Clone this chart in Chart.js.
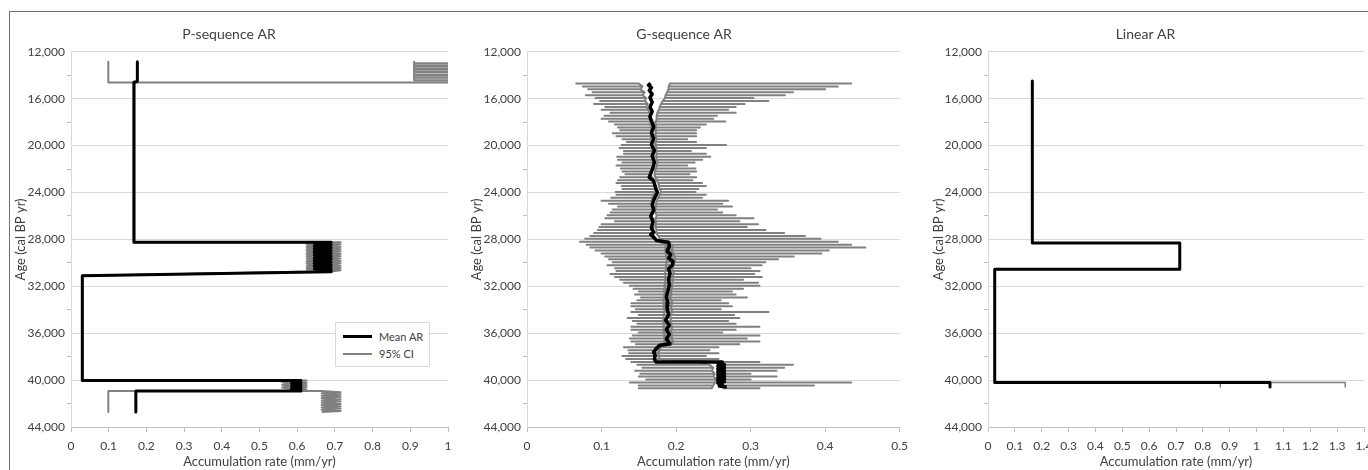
<!DOCTYPE html>
<html>
<head>
<meta charset="utf-8">
<script src="https://cdn.jsdelivr.net/npm/chart.js@4"></script>
<style>
  html, body { margin: 0; padding: 0; background: #fff; overflow: hidden; width: 1368px; height: 470px; }
  #frame { position: absolute; left: 9px; top: 11px; width: 1400px; height: 500px; border: 1px solid #707070; }
  canvas { position: absolute; top: 12px; }
  #legend { position: absolute; left: 335px; top: 322px; width: 95px; height: 45px; box-sizing: border-box;
            border: 1px solid #d9d9d9; background: #fff; padding-top: 5px; font: 11px Lato, sans-serif; color: #404040; }
  #legend .row { height: 17px; line-height: 17px; display: flex; align-items: center; }
  #legend .sw { display: inline-block; width: 29px; margin: 0 7px 0 7px; }
</style>
</head>
<body>
<div id="frame"></div>
<canvas id="pseq" width="452" height="458" style="left:10px"></canvas>
<canvas id="gseq" width="449" height="458" style="left:466px"></canvas>
<canvas id="lin" width="460" height="458" style="left:927px"></canvas>
<div id="legend">
  <div class="row"><span class="sw" style="height:3px;background:#000"></span>Mean AR</div>
  <div class="row"><span class="sw" style="height:2px;background:#808080"></span>95% CI</div>
</div>
<script>
// P-sequence AR (age in cal BP yr, rate in mm/yr)
const P_MEAN_AGE = [12850, 14520, 14600, 28240, 28240, 28360, 28480, 28600, 28720, 28840,
  28960, 29080, 29200, 29320, 29440, 29560, 29680, 29800, 29920, 30040,
  30160, 30280, 30400, 30520, 30640, 30750, 31090, 40040, 40040, 40140,
  40240, 40340, 40440, 40540, 40640, 40740, 40840, 40930, 40930, 42720];
const P_MEAN_AR = [0.176, 0.176, 0.167, 0.167, 0.690, 0.645, 0.690, 0.645, 0.690, 0.645,
  0.690, 0.645, 0.690, 0.645, 0.690, 0.645, 0.690, 0.645, 0.690, 0.645,
  0.690, 0.645, 0.690, 0.645, 0.690, 0.690, 0.030, 0.030, 0.610, 0.585,
  0.610, 0.585, 0.610, 0.585, 0.610, 0.585, 0.610, 0.610, 0.172, 0.172];

const P_LOW_AGE = [12850, 14620, 14620, 28240, 28240, 28340, 28440, 28540, 28640, 28740,
  28840, 28940, 29040, 29140, 29240, 29340, 29440, 29540, 29640, 29740,
  29840, 29940, 30040, 30140, 30240, 30340, 30440, 30540, 30640, 30740,
  31090, 40040, 40040, 40160, 40280, 40400, 40520, 40640, 40760, 40930,
  40930, 42720];
const P_LOW_AR = [0.099, 0.099, 0.166, 0.166, 0.625, 0.645, 0.625, 0.645, 0.625, 0.645,
  0.625, 0.645, 0.625, 0.645, 0.625, 0.645, 0.625, 0.645, 0.625, 0.645,
  0.625, 0.645, 0.625, 0.645, 0.625, 0.645, 0.625, 0.645, 0.625, 0.645,
  0.030, 0.030, 0.585, 0.560, 0.585, 0.560, 0.585, 0.560, 0.585, 0.585,
  0.099, 0.099];

const P_UP_AGE = [12850, 12970, 12970, 13010, 13010, 13210, 13210, 13250, 13250, 13450,
  13450, 13490, 13490, 13690, 13690, 13730, 13730, 13930, 13930, 13970,
  13970, 14170, 14170, 14210, 14210, 14420, 14420, 14620, 14620, 28240,
  28240, 28340, 28440, 28540, 28640, 28740, 28840, 28940, 29040, 29140,
  29240, 29340, 29440, 29540, 29640, 29740, 29840, 29940, 30040, 30140,
  30240, 30340, 30440, 30540, 30640, 30740, 31090, 40040, 40040, 40140,
  40240, 40340, 40440, 40540, 40640, 40740, 40840, 40930, 40930, 41030,
  41130, 41230, 41330, 41430, 41530, 41630, 41730, 41830, 41930, 42030,
  42130, 42230, 42330, 42430, 42530, 42630, 42720];
const P_UP_AR = [0.910, 0.910, 1.100, 1.100, 0.910, 0.910, 1.100, 1.100, 0.910, 0.910,
  1.100, 1.100, 0.910, 0.910, 1.100, 1.100, 0.910, 0.910, 1.100, 1.100,
  0.910, 0.910, 1.100, 1.100, 0.910, 0.910, 1.100, 1.100, 0.168, 0.168,
  0.715, 0.690, 0.715, 0.690, 0.715, 0.690, 0.715, 0.690, 0.715, 0.690,
  0.715, 0.690, 0.715, 0.690, 0.715, 0.690, 0.715, 0.690, 0.715, 0.690,
  0.715, 0.690, 0.715, 0.690, 0.715, 0.690, 0.030, 0.030, 0.625, 0.610,
  0.625, 0.610, 0.625, 0.610, 0.625, 0.610, 0.625, 0.610, 0.665, 0.715,
  0.665, 0.715, 0.665, 0.715, 0.665, 0.715, 0.665, 0.715, 0.665, 0.715,
  0.665, 0.715, 0.665, 0.715, 0.665, 0.715, 0.665];

// G-sequence AR
const G_MEAN_AGE = [14700, 14850, 15050, 15300, 15600, 15900, 16300, 16700, 17100, 17500,
  17900, 18400, 18900, 19400, 19900, 20400, 20900, 21400, 21900, 22400,
  22700, 23000, 23500, 24000, 24500, 25000, 25500, 26000, 26500, 27000,
  27400, 27600, 27800, 28100, 28240, 28600, 29000, 29300, 29600, 29900,
  30200, 30500, 30900, 31400, 31900, 32400, 32900, 33400, 33900, 34400,
  34900, 35300, 35700, 36100, 36500, 36900, 37030, 37300, 37600, 37900,
  38200, 38450, 38450, 38570, 38690, 38810, 38930, 39050, 39170, 39290,
  39410, 39530, 39650, 39770, 39890, 40010, 40130, 40250, 40370, 40500,
  40600];
const G_MEAN_AR = [0.166, 0.163, 0.167, 0.164, 0.168, 0.165, 0.168, 0.165, 0.168, 0.165,
  0.167, 0.170, 0.167, 0.170, 0.167, 0.171, 0.168, 0.171, 0.169, 0.166,
  0.164, 0.170, 0.172, 0.175, 0.171, 0.168, 0.170, 0.166, 0.169, 0.167,
  0.170, 0.166, 0.170, 0.174, 0.190, 0.191, 0.188, 0.193, 0.190, 0.196,
  0.195, 0.190, 0.192, 0.190, 0.191, 0.189, 0.187, 0.189, 0.188, 0.190,
  0.186, 0.191, 0.187, 0.191, 0.187, 0.192, 0.178, 0.174, 0.170, 0.172,
  0.171, 0.173, 0.262, 0.256, 0.265, 0.256, 0.265, 0.256, 0.265, 0.256,
  0.265, 0.256, 0.265, 0.256, 0.265, 0.256, 0.265, 0.256, 0.262, 0.258,
  0.268];

// 95% CI per sample: inner and outer end of each bar
const G_CI_AGE = [14700, 14950, 15200, 15450, 15700, 15950, 16200, 16450, 16700, 16950,
  17200, 17450, 17700, 17950, 18200, 18450, 18700, 18950, 19200, 19450,
  19700, 19950, 20200, 20450, 20700, 20950, 21200, 21450, 21700, 21950,
  22200, 22450, 22700, 22950, 23200, 23450, 23700, 23950, 24200, 24450,
  24700, 24950, 25200, 25450, 25700, 25950, 26200, 26450, 26700, 26950,
  27200, 27450, 27700, 27950, 28200, 28450, 28700, 28950, 29200, 29450,
  29700, 29950, 30200, 30450, 30700, 30950, 31200, 31450, 31700, 31950,
  32200, 32450, 32700, 32950, 33200, 33450, 33700, 33950, 34200, 34450,
  34700, 34950, 35200, 35450, 35700, 35950, 36200, 36450, 36700, 36950,
  37200, 37450, 37700, 37950, 38200, 38450, 38700, 38950, 39200, 39450,
  39700, 39950, 40200, 40450, 40700];
const G_LOW_OUT = [0.066, 0.075, 0.082, 0.088, 0.079, 0.092, 0.098, 0.090, 0.105, 0.100,
  0.112, 0.104, 0.100, 0.110, 0.118, 0.122, 0.125, 0.115, 0.120, 0.128,
  0.134, 0.127, 0.124, 0.130, 0.130, 0.121, 0.122, 0.128, 0.120, 0.126,
  0.128, 0.132, 0.125, 0.122, 0.120, 0.127, 0.128, 0.119, 0.120, 0.113,
  0.100, 0.110, 0.122, 0.115, 0.112, 0.108, 0.105, 0.118, 0.100, 0.097,
  0.095, 0.090, 0.085, 0.078, 0.071, 0.080, 0.085, 0.092, 0.100, 0.105,
  0.110, 0.115, 0.108, 0.118, 0.120, 0.112, 0.118, 0.125, 0.130, 0.138,
  0.143, 0.150, 0.145, 0.153, 0.148, 0.140, 0.140, 0.146, 0.140, 0.150,
  0.135, 0.142, 0.148, 0.140, 0.140, 0.150, 0.142, 0.138, 0.140, 0.146,
  0.130, 0.136, 0.137, 0.128, 0.133, 0.140, 0.148, 0.155, 0.145, 0.152,
  0.150, 0.160, 0.138, 0.150, 0.150];
const G_LOW_IN = [0.150, 0.155, 0.152, 0.158, 0.155, 0.160, 0.158, 0.162, 0.160, 0.163,
  0.164, 0.166, 0.163, 0.167, 0.165, 0.168, 0.166, 0.168, 0.165, 0.168,
  0.166, 0.168, 0.167, 0.169, 0.168, 0.170, 0.168, 0.170, 0.169, 0.168,
  0.166, 0.165, 0.168, 0.170, 0.171, 0.172, 0.173, 0.171, 0.170, 0.168,
  0.168, 0.170, 0.169, 0.168, 0.170, 0.167, 0.168, 0.169, 0.167, 0.168,
  0.169, 0.168, 0.170, 0.172, 0.176, 0.195, 0.196, 0.194, 0.197, 0.198,
  0.199, 0.198, 0.197, 0.195, 0.196, 0.197, 0.195, 0.196, 0.195, 0.194,
  0.195, 0.193, 0.194, 0.192, 0.194, 0.195, 0.193, 0.194, 0.195, 0.193,
  0.192, 0.194, 0.193, 0.195, 0.194, 0.193, 0.195, 0.194, 0.196, 0.195,
  0.180, 0.178, 0.176, 0.177, 0.178, 0.230, 0.245, 0.250, 0.248, 0.252,
  0.250, 0.255, 0.252, 0.250, 0.248];
const G_UP_OUT = [0.435, 0.417, 0.400, 0.357, 0.346, 0.304, 0.324, 0.292, 0.280, 0.270,
  0.280, 0.255, 0.250, 0.266, 0.240, 0.232, 0.227, 0.227, 0.227, 0.215,
  0.227, 0.267, 0.240, 0.220, 0.240, 0.246, 0.235, 0.225, 0.215, 0.226,
  0.227, 0.218, 0.227, 0.222, 0.235, 0.240, 0.230, 0.226, 0.240, 0.235,
  0.270, 0.262, 0.275, 0.255, 0.262, 0.280, 0.304, 0.285, 0.310, 0.295,
  0.320, 0.345, 0.373, 0.394, 0.417, 0.435, 0.454, 0.405, 0.395, 0.358,
  0.337, 0.320, 0.315, 0.300, 0.312, 0.305, 0.315, 0.290, 0.310, 0.312,
  0.290, 0.275, 0.280, 0.295, 0.260, 0.270, 0.275, 0.260, 0.324, 0.278,
  0.285, 0.270, 0.280, 0.312, 0.280, 0.262, 0.312, 0.295, 0.312, 0.285,
  0.257, 0.245, 0.257, 0.240, 0.257, 0.312, 0.357, 0.345, 0.335, 0.300,
  0.335, 0.300, 0.435, 0.385, 0.312];
const G_UP_IN = [0.192, 0.190, 0.190, 0.188, 0.186, 0.185, 0.182, 0.180, 0.178, 0.177,
  0.175, 0.174, 0.174, 0.173, 0.172, 0.173, 0.172, 0.173, 0.172, 0.174,
  0.173, 0.172, 0.174, 0.173, 0.174, 0.173, 0.174, 0.175, 0.174, 0.173,
  0.172, 0.171, 0.172, 0.174, 0.176, 0.177, 0.178, 0.180, 0.178, 0.176,
  0.174, 0.173, 0.173, 0.172, 0.172, 0.174, 0.173, 0.172, 0.173, 0.172,
  0.174, 0.173, 0.176, 0.178, 0.182, 0.186, 0.186, 0.185, 0.187, 0.186,
  0.188, 0.187, 0.186, 0.187, 0.186, 0.185, 0.186, 0.185, 0.186, 0.184,
  0.185, 0.184, 0.185, 0.184, 0.183, 0.184, 0.183, 0.184, 0.185, 0.183,
  0.184, 0.182, 0.184, 0.183, 0.184, 0.183, 0.185, 0.184, 0.185, 0.184,
  0.172, 0.171, 0.170, 0.171, 0.172, 0.262, 0.264, 0.262, 0.263, 0.262,
  0.264, 0.262, 0.263, 0.262, 0.264];

// Linear AR
const L_AGE = [14500, 28300, 28300, 30540, 30540, 40210, 40210, 40590];
const L_MEAN_AR = [0.165, 0.165, 0.714, 0.714, 0.025, 0.025, 1.050, 1.050];
const L_LOW_AR = [0.165, 0.165, 0.714, 0.714, 0.025, 0.025, 0.865, 0.865];
const L_UP_AR = [0.165, 0.165, 0.714, 0.714, 0.025, 0.025, 1.330, 1.330];

const FONT = 'Lato, "Open Sans", sans-serif';
const TXT = '#404040';

function style(points, color, width) {
  return {
    data: points,
    showLine: true,
    borderColor: color,
    borderWidth: width,
    pointRadius: 0,
    fill: false,
    borderJoinStyle: 'round'
  };
}

function line(ages, rates, color, width) {
  return style(ages.map((a, i) => ({ x: rates[i], y: a })), color, width);
}

// one horizontal bar per sample, from the inner to the outer CI value and back
function bars(ages, inner, outer, color, width) {
  const pts = [];
  ages.forEach((a, i) => {
    pts.push({ x: inner[i], y: a }, { x: outer[i], y: a }, { x: inner[i], y: a });
  });
  return style(pts, color, width);
}

function panelOptions(title, xMax, padRight, yTitlePad) {
  return {
    responsive: false,
    animation: false,
    layout: { padding: { left: 0, right: padRight, top: 0, bottom: 0 } },
    plugins: {
      legend: { display: false },
      tooltip: { enabled: false },
      title: {
        display: true, text: title, color: TXT,
        font: { family: FONT, size: 14, weight: 'normal' },
        padding: { top: 14, bottom: 9 }
      }
    },
    scales: {
      x: {
        type: 'linear', min: 0, max: xMax,
        ticks: {
          stepSize: 0.1, autoSkip: false, maxTicksLimit: 20, maxRotation: 0,
          color: TXT, font: { family: FONT, size: 12 }, padding: 7,
          callback: v => String(Math.round(v * 10) / 10)
        },
        grid: { drawOnChartArea: false, drawTicks: true, tickLength: 5, tickColor: '#bfbfbf' },
        border: { color: '#bfbfbf' },
        title: {
          display: true, text: 'Accumulation rate (mm/yr)', color: TXT,
          font: { family: FONT, size: 13 }, padding: { top: 0, bottom: 0 }
        },
        afterFit: s => { s.height = 43; }
      },
      y: {
        type: 'linear', reverse: true, min: 12000, max: 44000,
        ticks: {
          stepSize: 2000, autoSkip: false, maxTicksLimit: 20,
          color: TXT, font: { family: FONT, size: 12 }, padding: 2,
          callback: v => (v % 4000 === 0 ? v.toLocaleString('en-US') : '')
        },
        grid: {
          color: c => (c.tick && c.tick.value % 4000 === 0 ? '#d9d9d9' : 'rgba(0,0,0,0)'),
          tickColor: c => (c.tick && c.tick.value % 4000 === 0 ? 'rgba(0,0,0,0)' : '#bfbfbf'),
          tickLength: 4
        },
        border: { color: '#d9d9d9' },
        title: {
          display: true, text: 'Age (cal BP yr)', color: TXT,
          font: { family: FONT, size: 13 }, padding: { top: yTitlePad, bottom: 0 }
        },
        afterFit: s => { s.width = 61; }
      }
    }
  };
}

new Chart(document.getElementById('pseq'), {
  type: 'scatter',
  data: {
    datasets: [
      line(P_MEAN_AGE, P_MEAN_AR, '#000000', 3),
      line(P_LOW_AGE, P_LOW_AR, '#808080', 2),
      line(P_UP_AGE, P_UP_AR, '#808080', 2)
    ]
  },
  options: panelOptions('P-sequence AR', 1, 14, 3)
});

new Chart(document.getElementById('gseq'), {
  type: 'scatter',
  data: {
    datasets: [
      line(G_MEAN_AGE, G_MEAN_AR, '#000000', 3.5),
      bars(G_CI_AGE, G_LOW_IN, G_LOW_OUT, '#808080', 2),
      bars(G_CI_AGE, G_UP_IN, G_UP_OUT, '#808080', 2)
    ]
  },
  options: panelOptions('G-sequence AR', 0.5, 13, 3)
});

new Chart(document.getElementById('lin'), {
  type: 'scatter',
  data: {
    datasets: [
      line(L_AGE, L_MEAN_AR, '#000000', 3),
      line(L_AGE, L_LOW_AR, '#808080', 1.5),
      line(L_AGE, L_UP_AR, '#808080', 1.5)
    ]
  },
  options: panelOptions('Linear AR', 1.4, 23, 4)
});
</script>
</body>
</html>
